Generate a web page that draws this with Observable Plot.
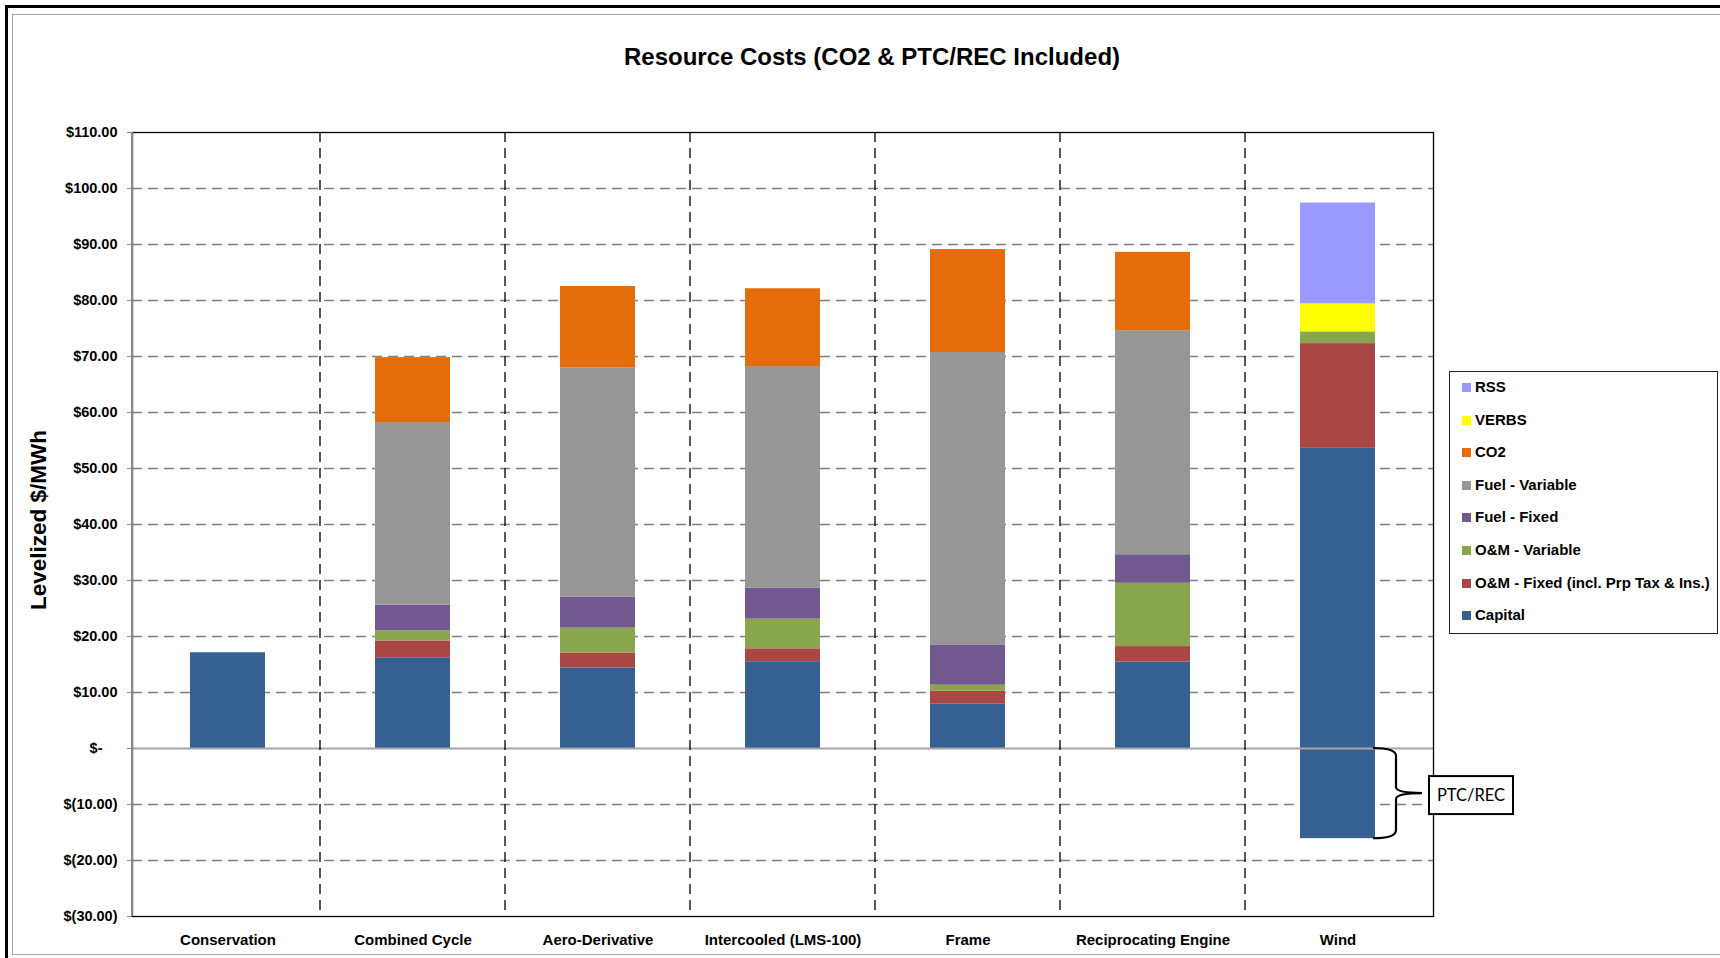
<!DOCTYPE html>
<html>
<head>
<meta charset="utf-8">
<script src="https://cdn.jsdelivr.net/npm/d3@7"></script>
<script src="https://cdn.jsdelivr.net/npm/@observablehq/plot@0.6"></script>
<style>
  body { margin: 0; background: #fff; font-family: "Liberation Sans", Arial, sans-serif; }
  #wrap { position: relative; width: 1720px; height: 958px; overflow: hidden; background: #fff; }
  #chart svg { position: absolute; left: 0; top: 0; }
  .border-outer { position: absolute; left: 5px; top: 5px; width: 1800px; height: 1100px; border-left: 3px solid #000; border-top: 3px solid #000; }
  .border-inner { position: absolute; left: 12px; top: 14px; width: 1800px; height: 939px; border: 1.5px solid #a6a6a6; }
  #title { position: absolute; left: 0; width: 1744px; top: 43px; text-align: center; font-weight: bold; font-size: 24px; line-height: 28px; color: #000; }
  #legend { position: absolute; left: 1449px; top: 371px; width: 267px; height: 261px; border: 1.5px solid #222; background: #fff; }
  .item { position: absolute; left: 12px; height: 20px; line-height: 20px; font-weight: bold; font-size: 15px; color: #000; white-space: nowrap; }
  .sw { display: inline-block; width: 9px; height: 9px; margin-right: 4px; vertical-align: 0px; }
</style>
</head>
<body>
<div id="wrap">
  <div class="border-outer"></div>
  <div class="border-inner"></div>
  <div id="chart"></div>
  <div id="title">Resource Costs (CO2 &amp; PTC/REC Included)</div>
  <div id="legend"></div>
</div>
<script>
const categories = ['Conservation', 'Combined Cycle', 'Aero-Derivative', 'Intercooled (LMS-100)', 'Frame', 'Reciprocating Engine', 'Wind']

// $/MWh per category, bottom to top of each stack
const capital      = [17.1, 16.2, 14.4, 15.5, 7.9, 15.45, 53.6]
const omFixed      = [0, 3.0, 2.65, 2.3, 2.3, 2.75, 18.7]
const omVariable   = [0, 1.8, 4.45, 5.3, 1.1, 11.3, 2.1]
const fuelFixed    = [0, 4.6, 5.5, 5.5, 7.1, 5.1, 0]
const fuelVariable = [0, 32.6, 41.0, 39.6, 52.3, 40.0, 0]
const co2          = [0, 11.6, 14.5, 13.9, 18.4, 14.0, 0]
const verbs        = [0, 0, 0, 0, 0, 0, 5.0]
const rss          = [0, 0, 0, 0, 0, 0, 18.0]
const ptcRec       = [0, 0, 0, 0, 0, 0, -16.1]

const components = ['Capital', 'O&M - Fixed (incl. Prp Tax & Ins.)', 'O&M - Variable', 'Fuel - Fixed', 'Fuel - Variable', 'CO2', 'VERBS', 'RSS', 'PTC/REC']
const componentValues = [capital, omFixed, omVariable, fuelFixed, fuelVariable, co2, verbs, rss, ptcRec]
const colors = ['#366092', '#aa4643', '#89a54e', '#71588f', '#969696', '#e46c0a', '#ffff00', '#9999ff', '#366092']

const yTicks = d3.range(-30, 111, 10)
const gridLines = yTicks.filter(v => v !== 0 && v !== -30 && v !== 110)

// long table for the stack
const rows = []
components.forEach((comp, j) => {
  componentValues[j].forEach((v, i) => {
    if (v !== 0) rows.push({category: categories[i], component: comp, value: v})
  })
})

const fmt = d => d < 0 ? `$(${(-d).toFixed(2)})` : `$${d.toFixed(2)}`

// separators, left axis line, y label, PTC/REC brace
function decor(index, scales, values, dim) {
  const x = scales.x, y = scales.y
  const bw = typeof x.bandwidth === 'function' ? x.bandwidth() : (dim.width - dim.marginLeft - dim.marginRight) / categories.length
  const top = dim.marginTop, bottom = dim.height - dim.marginBottom
  const g = d3.create('svg:g')

  categories.slice(1).forEach(c => {
    g.append('line')
      .attr('x1', x(c)).attr('x2', x(c))
      .attr('y1', top).attr('y2', bottom)
      .attr('stroke', '#000').attr('stroke-width', 1.3)
      .attr('stroke-dasharray', '10,6')
  })

  g.append('line')
    .attr('x1', dim.marginLeft).attr('x2', dim.marginLeft)
    .attr('y1', top).attr('y2', bottom)
    .attr('stroke', '#888').attr('stroke-width', 2)

  g.append('text')
    .attr('transform', `translate(38,${(top + bottom) / 2 - 4}) rotate(-90)`)
    .attr('text-anchor', 'middle').attr('dominant-baseline', 'central')
    .attr('font-weight', 'bold').attr('font-size', 22.5)
    .text('Levelized $/MWh')

  // brace next to the negative Wind segment
  const wi = categories.indexOf('Wind')
  const x0 = x('Wind') + bw - 57
  const y0 = y(0), y1 = y(ptcRec[wi])
  const xm = x0 + 23, xt = x0 + 49, ym = (y0 + y1) / 2
  g.append('path')
    .attr('d', `M${x0},${y0} Q${xm},${y0} ${xm},${y0 + 8} L${xm},${ym - 6} Q${xm},${ym} ${xt},${ym} Q${xm},${ym} ${xm},${ym + 6} L${xm},${y1 - 8} Q${xm},${y1} ${x0},${y1}`)
    .attr('fill', 'none').attr('stroke', '#000').attr('stroke-width', 2.2)
  g.append('rect')
    .attr('x', xt + 7).attr('y', ym - 17).attr('width', 84).attr('height', 38)
    .attr('fill', '#fff').attr('stroke', '#000').attr('stroke-width', 2)
  g.append('text')
    .attr('x', xt + 49).attr('y', ym + 2)
    .attr('text-anchor', 'middle').attr('dominant-baseline', 'central')
    .attr('font-family', 'Lato, "Noto Sans", sans-serif').attr('font-size', 16.5)
    .text('PTC/REC')
  return g.node()
}

const chart = Plot.plot({
  width: 1720,
  height: 958,
  marginLeft: 132,
  marginRight: 287,
  marginTop: 132,
  marginBottom: 42,
  style: {fontFamily: '"Liberation Sans", Arial, sans-serif', color: '#000', background: 'transparent'},
  x: {domain: categories, padding: 0, label: null},
  y: {domain: [-30, 110], label: null},
  color: {domain: components, range: colors},
  marks: [
    Plot.ruleY(gridLines, {stroke: '#7f7f7f', strokeWidth: 1.3, strokeDasharray: '10,6'}),
    Plot.barY(rows, {x: 'category', y: 'value', fill: 'component', insetLeft: 55, insetRight: 55}),
    Plot.ruleY([0], {stroke: '#a6a6a6', strokeWidth: 2}),
    Plot.frame({stroke: '#000', strokeWidth: 1.3}),
    Plot.axisY(yTicks.filter(v => v !== 0), {tickFormat: fmt, tickSize: 5, tickPadding: 10, stroke: '#888', fontWeight: 'bold', fontSize: 14.5, label: null}),
    Plot.axisY([0], {tickFormat: () => '', tickSize: 5, stroke: '#888', label: null}),
    Plot.text([0], {y: d => d, text: () => '$-', frameAnchor: 'left', textAnchor: 'end', dx: -30, fontWeight: 'bold', fontSize: 14.5}),
    Plot.axisX({tickSize: 0, tickPadding: 18, fontWeight: 'bold', fontSize: 15, label: null}),
    decor
  ]
})

d3.select('#chart').append(() => chart)

// legend, top entry first
const legendOrder = ['RSS', 'VERBS', 'CO2', 'Fuel - Variable', 'Fuel - Fixed', 'O&M - Variable', 'O&M - Fixed (incl. Prp Tax & Ins.)', 'Capital']
const legend = d3.select('#legend')
legendOrder.forEach((name, i) => {
  const item = legend.append('div').attr('class', 'item').style('top', `${5 + i * 32.6}px`)
  item.append('span').attr('class', 'sw').style('background', colors[components.indexOf(name)])
  item.append('span').text(name)
})
</script>
</body>
</html>
